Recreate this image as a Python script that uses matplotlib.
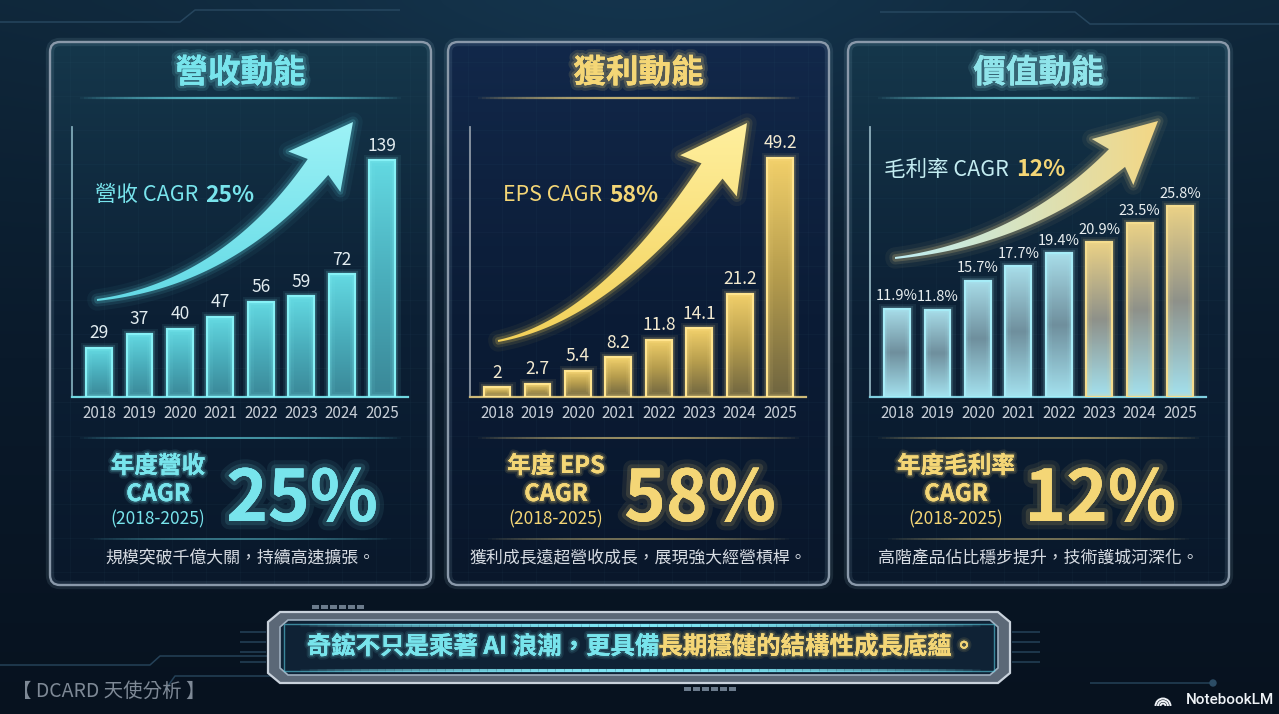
import numpy as np
import matplotlib
matplotlib.use('Agg')
import matplotlib.pyplot as plt
import matplotlib.patheffects as pe
from matplotlib.patches import FancyBboxPatch, Rectangle, Polygon, Circle, Arc
from matplotlib.collections import LineCollection
from matplotlib.colors import to_rgb

plt.rcParams['font.family'] = ['Noto Sans CJK TC', 'DejaVu Sans']
NUM_FONT = ['Noto Sans CJK TC', 'DejaVu Sans']

# ---- data ----
years = ['2018', '2019', '2020', '2021', '2022', '2023', '2024', '2025']
revenue = [29, 37, 40, 47, 56, 59, 72, 139]
eps = [2, 2.7, 5.4, 8.2, 11.8, 14.1, 21.2, 49.2]
gross_margin = [11.9, 11.8, 15.7, 17.7, 19.4, 20.9, 23.5, 25.8]

titles = ['營收動能', '獲利動能', '價值動能']
cagr_tags = ['營收 CAGR', 'EPS CAGR', '毛利率 CAGR']
cagr_values = ['25%', '58%', '12%']
block_heads = ['年度營收', '年度 EPS', '年度毛利率']
period = '(2018-2025)'
captions = ['規模突破千億大關，持續高速擴張。',
            '獲利成長遠超營收成長，展現強大經營槓桿。',
            '高階產品佔比穩步提升，技術護城河深化。']
banner_cyan = '奇鋐不只是乘著 AI 浪潮，更具備'
banner_gold = '長期穩健的結構性成長底蘊。'

W, H = 1279, 714
CYAN = '#78e4ec'
GOLD = '#f4d676'

fig = plt.figure(figsize=(W / 100, H / 100), dpi=100)
bg = fig.add_axes([0, 0, 1, 1])
bg.axis('off')
renderer = fig.canvas.get_renderer()


def vgrad(stops, n=120):
    t = np.linspace(0, 1, n)
    pos = np.linspace(0, 1, len(stops))
    cols = np.array([to_rgb(c) for c in stops])
    out = np.stack([np.interp(t, pos, cols[:, k]) for k in range(3)], axis=-1)
    return out[:, None, :]


def glow(color, r=6, a=0.16):
    return [pe.withStroke(linewidth=r, foreground=color, alpha=a),
            pe.withStroke(linewidth=r / 2, foreground=color, alpha=a * 1.6),
            pe.Normal()]


def fade_line(x0, x1, y, color, lw=1.5, amax=0.9, n=80):
    xs = np.linspace(x0, x1, n + 1)
    segs = [[(xs[i], y), (xs[i + 1], y)] for i in range(n)]
    t = (np.arange(n) + 0.5) / n
    a = amax * np.sin(np.pi * t) ** 0.7
    rgb = to_rgb(color)
    bg.add_collection(LineCollection(segs, colors=[(*rgb, ai) for ai in a],
                                     linewidths=lw, zorder=6))


def seq_text(x, y, parts, ha='left', zorder=8):
    texts, widths = [], []
    for s, gap, kw in parts:
        t = bg.text(0, y, s, ha='left', va='center', zorder=zorder, **kw)
        texts.append(t)
        widths.append(t.get_window_extent(renderer).width + gap)
    cur = x - sum(widths) / 2 if ha == 'center' else x
    for t, w in zip(texts, widths):
        t.set_x(cur)
        cur += w


def arrow_poly(p0, c, pb, tip, w0, w1, half):
    p0, c, pb, tip = map(np.array, (p0, c, pb, tip))
    t = np.linspace(0, 1, 80)[:, None]
    P = (1 - t) ** 2 * p0 + 2 * (1 - t) * t * c + t ** 2 * pb
    dP = 2 * (1 - t) * (c - p0) + 2 * t * (pb - c)
    n = np.stack([-dP[:, 1], dP[:, 0]], axis=1)
    n /= np.linalg.norm(n, axis=1, keepdims=True)
    w = w0 + (w1 - w0) * t ** 1.3
    left = P + n * w / 2
    right = P - n * w / 2
    d = (tip - pb) / np.linalg.norm(tip - pb)
    nh = np.array([-d[1], d[0]])
    wl = pb + nh * half - d * 6
    wr = pb - nh * half - d * 6
    return np.vstack([left, wl, tip, wr, right[::-1]])


# ---- background ----
yy, xx = np.mgrid[0:1:140j, 0:1:240j]
img = vgrad(['#0f273a', '#0a1a2b', '#07121f'], 140)[:, 0, :][:, None, :] * np.ones((1, 240, 1))
g = np.exp(-((xx - 0.5) ** 2 / 0.1 + (yy - 0.0) ** 2 / 0.06))
img = np.clip(img + g[..., None] * np.array([0.02, 0.05, 0.07]), 0, 1)
bg.imshow(img, extent=[0, W, H, 0], aspect='auto', zorder=0, interpolation='bicubic')

circuit = [[(0, 665), (150, 665), (160, 656), (470, 656), (480, 646)],
           [(165, 690), (175, 676), (420, 676)],
           [(1090, 683), (1210, 683)],
           [(0, 22), (180, 22), (195, 10), (400, 10)],
           [(1279, 24), (1090, 24), (1075, 12), (880, 12)],
           [(240, 632), (266, 632)], [(240, 642), (266, 642)],
           [(240, 652), (266, 652)], [(240, 662), (266, 662)],
           [(1012, 632), (1040, 632)], [(1012, 642), (1040, 642)],
           [(1012, 652), (1040, 652)], [(1012, 662), (1040, 662)]]
bg.add_collection(LineCollection(circuit, colors='#2c4d66', linewidths=1.1, alpha=0.8, zorder=1))
bg.add_patch(Circle((1213, 683), 3, color='#2c4d66', zorder=1))

# ---- panels ----
panel_x = [50, 448, 848]
PW, PY0, PY1 = 381, 42, 585
panel_bg = [['#15374b', '#0c2035', '#09182b'],
            ['#12284a', '#0b1c36', '#09172b'],
            ['#15374b', '#0c2035', '#09182b']]
title_col = [CYAN, GOLD, '#8fe4ea']
sep_top = ['#5fcad8', '#d8c27a', '#6fd0dc']
sep_bot = ['#5fcad8', '#d8c27a', '#d8c27a']
block_col = [CYAN, GOLD, GOLD]

for i, x0 in enumerate(panel_x):
    box = FancyBboxPatch((x0, PY0), PW, PY1 - PY0, boxstyle='round,pad=0,rounding_size=10',
                         fc='none', ec='#8a99aa', lw=1.7, zorder=5)
    bg.add_patch(box)
    bg.add_patch(FancyBboxPatch((x0, PY0), PW, PY1 - PY0, boxstyle='round,pad=0,rounding_size=10',
                                fc='none', ec='#9fc4d6', lw=6, alpha=0.12, zorder=4))
    im = bg.imshow(vgrad(panel_bg[i]), extent=[x0, x0 + PW, PY1, PY0], aspect='auto',
                   zorder=2, interpolation='bilinear')
    im.set_clip_path(box)
    gl = [[(x, PY0), (x, PY1)] for x in np.arange(x0 + 20, x0 + PW, 34)]
    gl += [[(x0, y), (x0 + PW, y)] for y in np.arange(PY0 + 20, PY1, 34)]
    lc = LineCollection(gl, colors='#3b6a80', linewidths=0.6, alpha=0.08, zorder=3)
    bg.add_collection(lc)
    lc.set_clip_path(box)

    bg.text(x0 + PW / 2, 73, titles[i], ha='center', va='center', fontsize=23.5,
            fontweight='bold', color=title_col[i], zorder=8,
            path_effects=glow(title_col[i], 8, 0.12))
    fade_line(x0 + 30, x0 + PW - 30, 98, sep_top[i], lw=1.6)
    fade_line(x0 + 30, x0 + PW - 30, 438, sep_bot[i], lw=1.4, amax=0.7)
    fade_line(x0 + 40, x0 + PW - 40, 539, sep_bot[i], lw=1.2, amax=0.6)

    c = block_col[i]
    bx = x0 + 108
    bg.text(bx, 466, block_heads[i], ha='center', va='center', fontsize=17,
            fontweight='bold', color=c, zorder=8, path_effects=glow(c, 5, 0.12))
    bg.text(bx, 494, 'CAGR', ha='center', va='center', fontsize=17,
            fontweight='bold', color=c, zorder=8, path_effects=glow(c, 5, 0.12))
    bg.text(bx, 519, period, ha='center', va='center', fontsize=12.5,
            color=c, zorder=8)
    bg.text(x0 + 252, 521, cagr_values[i], ha='center', va='baseline', fontsize=51,
            fontweight='bold', family=NUM_FONT, color=c, zorder=8,
            path_effects=glow(c, 12, 0.08))
    bg.text(x0 + PW / 2, 558, captions[i], ha='center', va='center', fontsize=12.2,
            color='#d6dbe2', zorder=8)

# ---- arrows ----
arrows = [((97, 300), (227, 284), (318, 167), (353, 122), 2, 26, 33),
          ((498, 341), (604, 320), (712, 171), (747, 123), 2, 26, 35),
          ((895, 258), (1023, 243), (1117, 158), (1158, 121), 2, 24, 31)]
arrow_cols = [['#9ff3f7', '#5fd8e4'], ['#fff0a0', '#f2cf55'], ['#c8f0f5', '#f2d68c']]
for k, (p0, c, pb, tip, w0, w1, half) in enumerate(arrows):
    pts = arrow_poly(p0, c, pb, tip, w0, w1, half)
    ec = arrow_cols[k][1]
    for lw, a in [(14, 0.05), (8, 0.1), (4, 0.2)]:
        bg.add_patch(Polygon(pts, closed=True, fc='none', ec=ec, lw=lw, alpha=a,
                             joinstyle='round', zorder=6))
    poly = Polygon(pts, closed=True, fc='none', ec='none', zorder=7)
    bg.add_patch(poly)
    if k == 2:
        grad = np.linspace(0, 1, 100)[None, :, None]
        a_rgb, b_rgb = np.array(to_rgb('#bfeef4')), np.array(to_rgb('#f3d785'))
        gimg = a_rgb * (1 - grad) + b_rgb * grad
        ext = [p0[0], tip[0], p0[1] + 15, tip[1] - 5]
    else:
        gimg = vgrad([arrow_cols[k][0], arrow_cols[k][1]])
        ext = [p0[0] - 5, tip[0] + 5, p0[1] + 15, tip[1] - 5]
    aim = bg.imshow(gimg, extent=ext, aspect='auto', zorder=7, interpolation='bilinear')
    aim.set_clip_path(poly)

# CAGR tags inside charts
seq_text(95, 195, [(cagr_tags[0], 7, dict(fontsize=15.5, color=CYAN)),
                   (cagr_values[0], 0, dict(fontsize=16.5, fontweight='bold', color=CYAN))])
seq_text(503, 195, [(cagr_tags[1], 7, dict(fontsize=15.5, color=GOLD)),
                    (cagr_values[1], 0, dict(fontsize=16.5, fontweight='bold', color=GOLD))])
seq_text(884, 170, [(cagr_tags[2], 7, dict(fontsize=15.5, color='#c3ecf1')),
                    (cagr_values[2], 0, dict(fontsize=16.5, fontweight='bold', color=GOLD))])

# ---- bar charts ----
series = [revenue, eps, gross_margin]
labels = [[f'{v}' for v in revenue], [f'{v:g}' for v in eps],
          [f'{v:.1f}%' for v in gross_margin]]
ylims = [(0, 158.4), (0, 55.5), (0, 36.5)]
blue_bar = (['#63d9e2', '#4aaebc', '#3a8797'], '#86f1f6')
gold_bar = (['#f2d06a', '#b59c4d', '#6f6540'], '#ffe48e')
gm_blue = (['#a8dde9', '#6f8f9d', '#a4e1ee'], '#a6ecf7')
gm_gold = (['#ead186', '#8e918a', '#a4e1ee'], '#f4dc8e')
bar_styles = [[blue_bar] * 8, [gold_bar] * 8, [gm_blue] * 5 + [gm_gold] * 3]
spine_cols = [('#7fa9b8', '#6fd6e0'), ('#8e99a6', '#cdb978'), ('#8fb0bd', '#7fcfe0')]
val_cols = ['#e2ecf0', '#f3ead0', '#e8eef0']
val_size = [12.5, 12.5, 10.5]

for i, x0 in enumerate(panel_x):
    ax = fig.add_axes([(x0 + 22) / W, 1 - 397 / H, 336 / W, 270 / H])
    ax.set_facecolor('none')
    xs = np.arange(len(years))
    bars = ax.bar(xs, series[i], width=0.64, color='none', edgecolor='none', zorder=2)
    for j, b in enumerate(bars):
        stops, ec = bar_styles[i][j]
        bx0, bw, bh = b.get_x(), b.get_width(), b.get_height()
        im = ax.imshow(vgrad(stops), extent=[bx0, bx0 + bw, 0, bh], aspect='auto',
                       zorder=2, interpolation='bilinear')
        im.set_clip_path(b)
        for lw, a in [(8, 0.07), (4.5, 0.15)]:
            ax.add_patch(Rectangle((bx0, 0), bw, bh, fill=False, ec=ec, lw=lw, alpha=a, zorder=3))
        ax.add_patch(Rectangle((bx0, 0), bw, bh, fill=False, ec=ec, lw=1.6, zorder=4))
        ax.annotate(labels[i][j], (xs[j], bh), xytext=(0, 4), textcoords='offset points',
                    ha='center', va='bottom', fontsize=val_size[i], family=NUM_FONT,
                    color=val_cols[i], annotation_clip=False, zorder=5)
    ax.set_xlim(-0.67, 7.64)
    ax.set_ylim(*ylims[i])
    ax.set_aspect('auto')
    ax.set_yticks([])
    ax.set_xticks(xs)
    ax.set_xticklabels(years, family=NUM_FONT, fontsize=11, color='#c8cfd8')
    ax.tick_params(axis='x', length=0, pad=6)
    for s in ['top', 'right']:
        ax.spines[s].set_visible(False)
    ax.spines['left'].set_color(spine_cols[i][0])
    ax.spines['bottom'].set_color(spine_cols[i][1])
    ax.spines['left'].set_linewidth(1.3)
    ax.spines['bottom'].set_linewidth(1.6)

# ---- banner ----
outer = [(280, 612), (998, 612), (1010, 622), (1010, 673), (998, 683), (280, 683), (268, 673), (268, 622)]
bg.add_patch(Polygon(outer, closed=True, fc='#5b6877', ec='#c9d2dc', lw=1.6, zorder=5))
inner = [(288, 620), (990, 620), (998, 627), (998, 668), (990, 675), (288, 675), (280, 668), (280, 627)]
bg.add_patch(Polygon(inner, closed=True, fc='#0f2235', ec='#9fb0c0', lw=1.2, zorder=6))
bg.add_patch(Rectangle((284, 624), 710, 47, fc='none', ec='#59cbe0', lw=1, alpha=0.6, zorder=6))
fade_line(300, 980, 625, '#7fe6f5', lw=2.2, amax=1.0)
fade_line(300, 980, 670, '#7fe6f5', lw=2.2, amax=1.0)
for k in range(6):
    bg.add_patch(Rectangle((312 + k * 9, 605), 7, 4, fc='#6b7b8c', ec='none', zorder=5))
    bg.add_patch(Rectangle((684 + k * 9, 687), 7, 4, fc='#6b7b8c', ec='none', zorder=5))
seq_text(641, 647, [(banner_cyan, 0, dict(fontsize=17.6, fontweight='bold', color=CYAN,
                                          path_effects=glow(CYAN, 5, 0.1))),
                    (banner_gold, 0, dict(fontsize=17.6, fontweight='bold', color=GOLD,
                                          path_effects=glow(GOLD, 5, 0.1)))],
         ha='center', zorder=9)

bg.text(12, 691, '【 DCARD 天使分析 】', ha='left', va='center', fontsize=14,
        color='#7e8996', zorder=8)
bg.text(1274, 700, 'NotebookLM', ha='right', va='center', fontsize=11,
        color='#eef2f6', family=['Roboto', 'DejaVu Sans'], fontweight='medium', zorder=8)
for r in (2.5, 5, 7.5):
    bg.add_patch(Arc((1163, 706), 2 * r, 2 * r, theta1=180, theta2=360, color='#eef2f6',
                     lw=1.4, zorder=8))

bg.set_xlim(0, W)
bg.set_ylim(H, 0)
fig.savefig('out.png', dpi=100, facecolor='#0a1a2b')
